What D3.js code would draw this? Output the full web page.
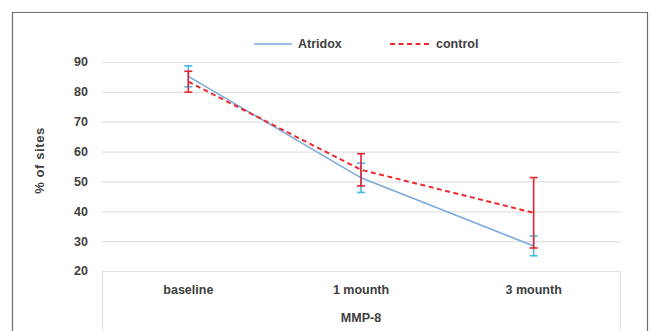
<!DOCTYPE html>
<html>
<head>
<meta charset="utf-8">
<script src="https://cdn.jsdelivr.net/npm/d3@7"></script>
<style>
  body { margin: 0; background: #fff; }
  text { font-family: "Liberation Sans Narrow", "Liberation Sans", Arial, sans-serif; fill: #404040; }
</style>
</head>
<body>
<div id="chart"></div>
<script>
// data
var categories = ["baseline", "1 mounth", "3 mounth"];
var atridox = [85.2, 51.2, 28.4];
var atridoxErr = [3.5, 4.9, 3.3];
var control = [83.4, 53.9, 39.5];
var controlErr = [3.5, 5.4, 11.8];
var yTicks = [20, 30, 40, 50, 60, 70, 80, 90];
var axisTitle = "MMP-8";

var width = 654, height = 331;
var margin = { top: 62, right: 34, bottom: 60, left: 102 };
var w = width - margin.left - margin.right;
var h = height - margin.top - margin.bottom;

var svg = d3.select("#chart").append("svg")
  .attr("width", width)
  .attr("height", height);

// outer frame (bottom edge runs off the picture)
svg.append("path")
  .attr("d", "M12.5," + height + "V12.5H647.5V" + height)
  .attr("fill", "none")
  .attr("stroke", "#707070")
  .attr("stroke-width", 1.2);

var g = svg.append("g")
  .attr("transform", "translate(" + margin.left + "," + margin.top + ")");

var x = d3.scaleBand().domain(categories).range([0, w]);
var y = d3.scaleLinear().domain([20, 90]).range([h, 0]);
var cx = function (d, i) { return x(categories[i]) + x.bandwidth() / 2; };

// gridlines
g.selectAll(".grid")
  .data(yTicks)
  .enter().append("line")
  .attr("x1", 0).attr("x2", w)
  .attr("y1", function (d) { return y(d) + 0.5; })
  .attr("y2", function (d) { return y(d) + 0.5; })
  .attr("stroke", "#e2e2e2")
  .attr("stroke-width", 1.2);

// y axis labels
g.selectAll(".ylab")
  .data(yTicks)
  .enter().append("text")
  .attr("x", -14)
  .attr("y", function (d) { return y(d); })
  .attr("dy", "0.35em")
  .attr("text-anchor", "end")
  .attr("font-size", 12.5)
  .attr("font-weight", "bold")
  .text(function (d) { return d; });

svg.append("text")
  .attr("transform", "translate(44," + (margin.top + h / 2 - 6) + ") rotate(-90)")
  .attr("text-anchor", "middle")
  .attr("font-size", 13)
  .attr("font-weight", "bold")
  .attr("letter-spacing", 0.6)
  .text("% of sites");

// category table below the plot
g.selectAll(".vtab")
  .data([0, w])
  .enter().append("line")
  .attr("x1", function (d) { return d + 0.5; })
  .attr("x2", function (d) { return d + 0.5; })
  .attr("y1", h).attr("y2", height - margin.top)
  .attr("stroke", "#e2e2e2")
  .attr("stroke-width", 1.2);

g.selectAll(".xlab")
  .data(categories)
  .enter().append("text")
  .attr("x", function (d) { return x(d) + x.bandwidth() / 2; })
  .attr("y", h + 23)
  .attr("text-anchor", "middle")
  .attr("font-size", 12.5)
  .attr("font-weight", "bold")
  .text(function (d) { return d; });

g.append("text")
  .attr("x", w / 2)
  .attr("y", h + 51)
  .attr("text-anchor", "middle")
  .attr("font-size", 12.5)
  .attr("font-weight", "bold")
  .text(axisTitle);

var line = d3.line().x(cx).y(function (d) { return y(d); });

g.append("path")
  .datum(atridox)
  .attr("d", line)
  .attr("fill", "none")
  .attr("stroke", "#7aa9dd")
  .attr("stroke-width", 1.6);

g.append("path")
  .datum(control)
  .attr("d", line)
  .attr("fill", "none")
  .attr("stroke", "#ee2a30")
  .attr("stroke-width", 2)
  .attr("stroke-dasharray", "5,3.5");

// error bars
function errorBars(vals, errs, color) {
  var eb = g.append("g").attr("stroke", color).attr("stroke-width", 1.6);
  vals.forEach(function (v, i) {
    var px = cx(v, i);
    eb.append("line")
      .attr("x1", px).attr("x2", px)
      .attr("y1", y(v + errs[i])).attr("y2", y(v - errs[i]));
    [v + errs[i], v - errs[i]].forEach(function (e) {
      eb.append("line")
        .attr("x1", px - 4).attr("x2", px + 4)
        .attr("y1", y(e)).attr("y2", y(e));
    });
  });
}
errorBars(atridox, atridoxErr, "#45b8ea");
errorBars(control, controlErr, "#e52530");

// legend
var lg = svg.append("g").attr("transform", "translate(0,44)");
lg.append("line")
  .attr("x1", 254).attr("x2", 292)
  .attr("stroke", "#7aa9dd").attr("stroke-width", 1.6);
lg.append("text")
  .attr("x", 298).attr("dy", "0.35em")
  .attr("font-size", 12.5).attr("font-weight", "bold")
  .text("Atridox");
lg.append("line")
  .attr("x1", 390).attr("x2", 429)
  .attr("stroke", "#ee2a30").attr("stroke-width", 2)
  .attr("stroke-dasharray", "5,3.5");
lg.append("text")
  .attr("x", 436).attr("dy", "0.35em")
  .attr("font-size", 12.5).attr("font-weight", "bold")
  .text("control");
</script>
</body>
</html>
